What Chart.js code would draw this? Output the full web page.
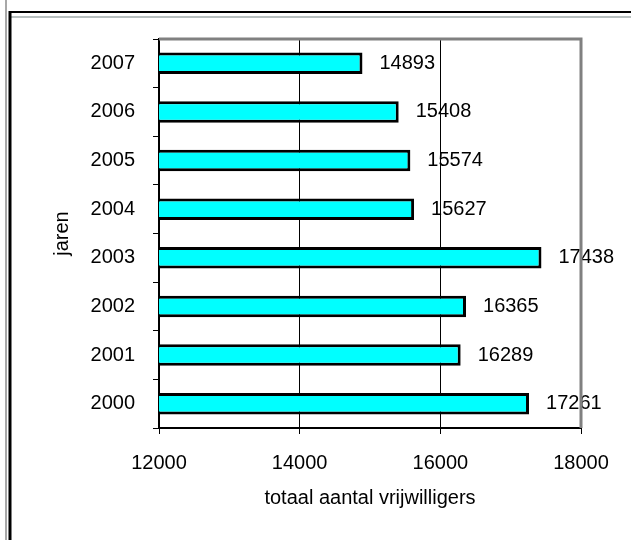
<!DOCTYPE html>
<html>
<head>
<meta charset="utf-8">
<script src="https://cdn.jsdelivr.net/npm/chart.js@4/dist/chart.umd.min.js"></script>
<style>
  body { margin: 0; background: #fff; }
  canvas { display: block; }
</style>
</head>
<body>
<canvas id="chart" width="631" height="540"></canvas>
<script>
// Data
const years = ['2000', '2001', '2002', '2003', '2004', '2005', '2006', '2007'];
const volunteers = [17261, 16289, 16365, 17438, 15627, 15574, 15408, 14893];
const xTicks = [12000, 14000, 16000, 18000];

const FONT = { family: 'Liberation Sans, Arial, sans-serif', size: 20 };

// value labels right of each bar
const valueLabels = {
    id: 'valueLabels',
    afterDatasetsDraw(chart) {
        const ctx = chart.ctx;
        const meta = chart.getDatasetMeta(0);
        ctx.save();
        ctx.font = '20px ' + FONT.family;
        ctx.fillStyle = '#000';
        ctx.textBaseline = 'middle';
        ctx.textAlign = 'left';
        meta.data.forEach((bar, i) => {
            ctx.fillText(String(volunteers[i]), bar.x + 17, bar.y);
        });
        ctx.restore();
    }
};

// gray plot frame (top + right) and the window edges around the chart
const frame = {
    id: 'frame',
    afterDraw(chart) {
        const ctx = chart.ctx;
        const a = chart.chartArea;
        ctx.save();
        ctx.strokeStyle = '#808080';
        ctx.lineWidth = 3;
        ctx.beginPath();
        ctx.moveTo(a.left, a.top);
        ctx.lineTo(a.right, a.top);
        ctx.lineTo(a.right, a.bottom);
        ctx.stroke();

        // outer window lines
        ctx.lineWidth = 2;
        ctx.strokeStyle = '#000';
        ctx.beginPath();
        ctx.moveTo(9, 12); ctx.lineTo(631, 12);
        ctx.stroke();
        ctx.strokeStyle = '#b8c0c0';
        ctx.beginPath();
        ctx.moveTo(11, 17); ctx.lineTo(631, 17);
        ctx.stroke();
        ctx.strokeStyle = '#a8a8a8';
        ctx.beginPath();
        ctx.moveTo(6, 0); ctx.lineTo(6, 540);
        ctx.stroke();
        ctx.strokeStyle = '#000';
        ctx.lineWidth = 3;
        ctx.beginPath();
        ctx.moveTo(10, 11); ctx.lineTo(10, 540);
        ctx.stroke();
        ctx.restore();
    }
};

new Chart(document.getElementById('chart'), {
    type: 'bar',
    data: {
        labels: years,
        datasets: [{
            data: volunteers,
            backgroundColor: '#00ffff',
            borderColor: '#000',
            borderWidth: 3,
            borderSkipped: false,
            barPercentage: 0.44,
            categoryPercentage: 1
        }]
    },
    options: {
        indexAxis: 'y',
        responsive: false,
        animation: false,
        layout: { padding: { top: 39, right: 50, left: 0, bottom: 0 } },
        plugins: {
            legend: { display: false },
            tooltip: { enabled: false }
        },
        scales: {
            x: {
                min: 12000,
                max: 18000,
                afterBuildTicks: s => { s.ticks = xTicks.map(v => ({ value: v })); },
                afterFit: s => { s.height = 112; },
                grid: {
                    color: '#000',
                    lineWidth: 1,
                    tickLength: 6
                },
                border: { color: '#000', width: 2 },
                ticks: {
                    color: '#000',
                    font: FONT,
                    padding: 17,
                    maxRotation: 0,
                    callback: v => String(v)
                },
                title: {
                    display: true,
                    text: 'totaal aantal vrijwilligers',
                    color: '#000',
                    font: FONT,
                    padding: { top: 0, bottom: 30 }
                }
            },
            y: {
                reverse: true,
                afterFit: s => { s.width = 159; },
                grid: {
                    offset: true,
                    drawOnChartArea: false,
                    color: '#000',
                    tickLength: 6
                },
                border: { color: '#000', width: 2 },
                ticks: { color: '#000', font: FONT, padding: 18 },
                title: {
                    display: true,
                    text: 'jaren',
                    color: '#000',
                    font: FONT,
                    padding: { top: 50, bottom: 0 }
                }
            }
        }
    },
    plugins: [valueLabels, frame]
});
</script>
</body>
</html>
